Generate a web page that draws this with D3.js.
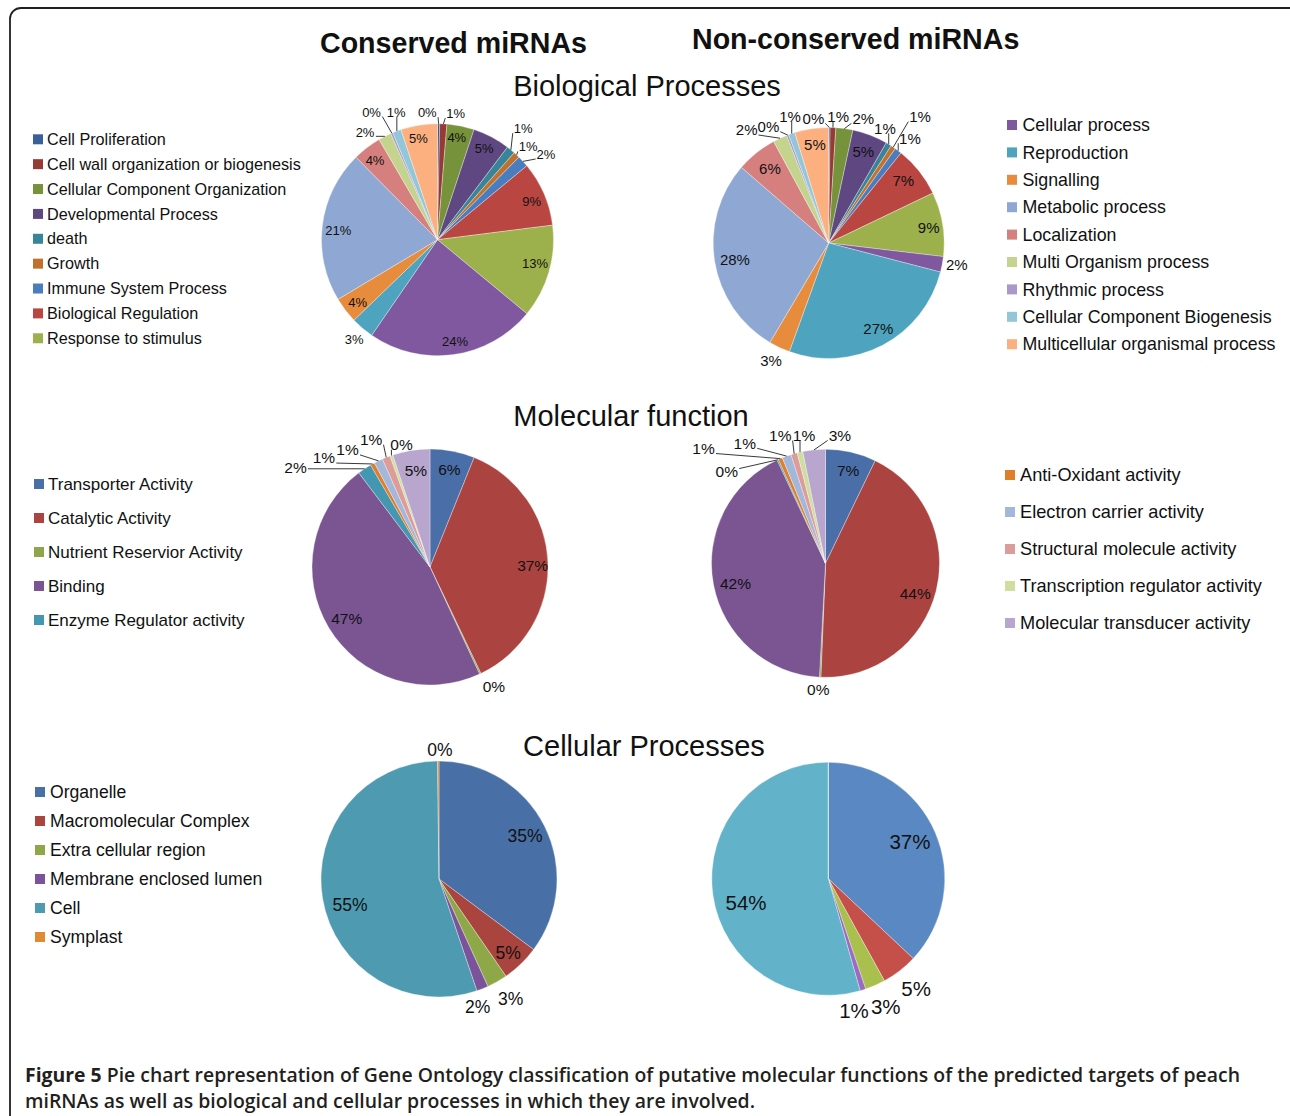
<!DOCTYPE html>
<html><head><meta charset="utf-8">
<script src="https://cdn.jsdelivr.net/npm/d3@7"></script>
<style>body{margin:0;background:#fff;} svg{display:block;}</style>
</head><body>
<svg id="chart" width="1290" height="1116"></svg>
<script>
// ---------------- DATA ----------------
const bpCategories = ["Cell Proliferation","Cell wall organization or biogenesis","Cellular Component Organization","Developmental Process","death","Growth","Immune System Process","Biological Regulation","Response to stimulus","Cellular process","Reproduction","Signalling","Metabolic process","Localization","Multi Organism process","Rhythmic process","Cellular Component Biogenesis","Multicellular organismal process"];
const bpConserved    = [0.3, 1.0, 3.8, 5.2, 1.2, 0.9, 1.6, 9.0, 13.0, 23.6, 3.2, 3.6, 21.2, 4.0, 1.8, 0.3, 1.2, 5.1];
const bpNonConserved = [0.2, 0.8, 2.4, 5.0, 0.8, 0.7, 1.0, 7.2, 9.1, 2.2, 26.8, 3.0, 28.2, 5.8, 2.0, 0.3, 0.9, 4.8];

const mfCategories = ["Transporter Activity","Catalytic Activity","Nutrient Reservior Activity","Binding","Enzyme Regulator activity","Anti-Oxidant activity","Electron carrier activity","Structural molecule activity","Transcription regulator activity","Molecular transducer activity"];
const mfConserved    = [6.1, 36.8, 0.2, 46.6, 1.9, 0.6, 1.2, 1.1, 0.4, 5.1];
const mfNonConserved = [7.2, 43.6, 0.2, 42.3, 0.2, 0.6, 1.3, 0.9, 0.8, 3.2];

const cpCategories = ["Organelle","Macromolecular Complex","Extra cellular region","Membrane enclosed lumen","Cell","Symplast"];
const cpConserved    = [35.2, 5.2, 2.8, 1.6, 55.0, 0.2];
const cpNonConserved = [37.0, 5.0, 2.8, 0.8, 54.4, 0];

const headings = ["Conserved miRNAs", "Non-conserved miRNAs"];
const sectionTitles = ["Biological Processes", "Molecular function", "Cellular Processes"];
const captionBold = "Figure 5";
const captionLine1 = " Pie chart representation of Gene Ontology classification of putative molecular functions of the predicted targets of peach";
const captionLine2 = "miRNAs as well as biological and cellular processes in which they are involved.";

// ---------------- STYLES / LAYOUT ----------------
const bpColors = ["#3B5F98","#963A36","#76923A","#5F4782","#388499","#C2712C","#4A7DBF","#BA4642","#9CB14C","#8058A0","#4EA4BE","#E78C3D","#8EA8D3","#D5807E","#C4D38E","#AA98C9","#92C6D8","#FCB07F"];
const mfColors = ["#4A6FA8","#AB4440","#8EA649","#7A5592","#4497B0","#E07F2A","#A3B7DB","#DC9C9A","#CFDE9F","#B8A6CE"];
const cpColorsC = ["#4870A6","#A9443F","#8FA847","#7B539A","#4D9AB1","#E08A34"];
const cpColorsN = ["#5A88C2","#C5504A","#A9BF4E","#9A6BC0","#62B3CA","#F59A45"];

// label placement: [angle (deg, clockwise from 12 o'clock), radius factor, leader line]
const bpLayoutC = [[355.4,1.10,1],[8.2,1.10,1],[10.7,0.895,0],[27.1,0.885,0],[37.6,1.21,1],[44.3,1.12,1],[51.8,1.19,1],[68.0,0.876,0],[103.6,0.865,0],[170.2,0.886,0],[219.9,1.12,0],[231.9,0.874,0],[275.6,0.86,0],[321.9,0.873,0],[326.1,1.12,1],[332.7,1.24,1],[342,1.155,1],[349.3,0.89,0]];
const bpLayoutN = [[353.0,1.087,1],[4.3,1.097,1],[15.5,1.12,1],[20.8,0.845,0],[26.1,1.106,1],[35.9,1.35,1],[37.8,1.148,1],[50.3,0.84,0],[81.3,0.876,0],[99.75,1.125,0],[149.8,0.854,0],[206.05,1.137,0],[259.7,0.825,0],[321.8,0.823,0],[324,1.209,1],[332.6,1.134,1],[343,1.144,1],[352,0.857,0]];
const mfLayoutC = [[11.3,0.84,0],[89.3,0.87,0],[151.9,1.15,0],[238.2,0.83,0],[306.6,1.42,1],[315.8,1.29,1],[324.9,1.215,1],[335.2,1.19,1],[346.9,1.065,1],[351.7,0.83,0]];
const mfLayoutN = [[13.7,0.84,0],[108.5,0.83,0],[183.3,1.11,0],[257.1,0.81,0],[312.8,1.18,1],[313.3,1.47,1],[326.1,1.27,1],[340.5,1.19,1],[350.5,1.14,1],[6.4,1.13,1]];
const cpLayoutC = [[63.4,0.815,0],[136.8,0.857,0],[149,1.18,0],[163.1,1.13,0],[253.7,0.786,0],[0.4,1.10,0]];
const cpLayoutN = [[65.6,0.77,0],[141.3,1.205,0],[155.8,1.204,0],[169,1.155,0],[253.7,0.736,0],null];

const FONT = "'Liberation Sans', Arial, Helvetica, sans-serif";
const svg = d3.select("#chart").style("font-family", FONT);

// frame
svg.append("rect").attr("x",10).attr("y",8).attr("width",1300).attr("height",1140)
  .attr("rx",11).attr("fill","none").attr("stroke","#231f20").attr("stroke-width",1.8);

// headings
svg.append("text").attr("x",320).attr("y",53).attr("font-size",28.6).attr("font-weight","bold").attr("fill","#111").text(headings[0]);
svg.append("text").attr("x",692).attr("y",49).attr("font-size",28.6).attr("font-weight","bold").attr("fill","#111").text(headings[1]);
const secPos = [[647,96],[631,426],[644,756]];
sectionTitles.forEach((t,i)=>{
  svg.append("text").attr("x",secPos[i][0]).attr("y",secPos[i][1]).attr("text-anchor","middle")
    .attr("font-size",29).attr("fill","#111").text(t);
});

const deg = d3.scaleLinear().domain([0,360]).range([0,2*Math.PI]);

function drawPie(values, colors, cx, cy, r, layout, fs) {
  const g = svg.append("g").attr("transform",`translate(${cx},${cy})`);
  const arcs = d3.pie().sort(null).value(d=>d)(values);
  const arc = d3.arc().innerRadius(0).outerRadius(r);
  g.selectAll("path").data(arcs).join("path")
    .attr("d",arc).attr("fill",(d,i)=>colors[i])
    .attr("stroke","rgba(255,255,255,0.55)").attr("stroke-width",0.6);
  arcs.forEach((d,i)=>{
    const L = layout[i]; if(!L) return;
    const a = deg(L[0]), rr = L[1]*r;
    const x = rr*Math.sin(a), y = -rr*Math.cos(a);
    const t = g.append("text").attr("x",x).attr("y",y).attr("dy","0.36em")
      .attr("text-anchor","middle").attr("font-size",fs).attr("fill","#111")
      .text(Math.round(values[i])+"%");
    if (L[2]) {
      const bb = t.node().getBBox();
      const m = (d.startAngle+d.endAngle)/2;
      const px = r*Math.sin(m), py = -r*Math.cos(m);
      const qx = Math.max(bb.x-1, Math.min(px, bb.x+bb.width+1));
      const qy = Math.max(bb.y+bb.height*0.3, Math.min(py, bb.y+bb.height*0.8));
      g.append("line").attr("x1",px).attr("y1",py).attr("x2",qx).attr("y2",qy)
        .attr("stroke","#222").attr("stroke-width",0.9);
    }
  });
}

function drawLegend(items, colors, sqX, textX, y0, step, fs) {
  const g = svg.append("g");
  items.forEach((name,i)=>{
    const y = y0 + i*step;
    g.append("rect").attr("x",sqX).attr("y",y-5).attr("width",10).attr("height",10).attr("fill",colors[i]);
    g.append("text").attr("x",textX).attr("y",y).attr("dy","0.35em").attr("font-size",fs).attr("fill","#111").text(name);
  });
}

// Biological processes
drawPie(bpConserved, bpColors, 437.5, 239.7, 116, bpLayoutC, 13);
drawPie(bpNonConserved, bpColors, 828.7, 243, 115.5, bpLayoutN, 15);
drawLegend(bpCategories.slice(0,9), bpColors.slice(0,9), 33, 47, 139.3, 24.87, 16.2);
drawLegend(bpCategories.slice(9), bpColors.slice(9), 1007, 1022.5, 125, 27.4, 17.8);

// Molecular function
drawPie(mfConserved, mfColors, 430, 567, 118, mfLayoutC, 15.5);
drawPie(mfNonConserved, mfColors, 825.5, 563.3, 114, mfLayoutN, 15.5);
drawLegend(mfCategories.slice(0,5), mfColors.slice(0,5), 34, 48, 484, 34, 17);
drawLegend(mfCategories.slice(5), mfColors.slice(5), 1005, 1020, 475, 37, 18.2);

// Cellular processes
drawPie(cpConserved, cpColorsC, 439, 879, 118, cpLayoutC, 17.5);
drawPie(cpNonConserved, cpColorsN, 828.3, 878.7, 116.5, cpLayoutN, 20.5);
drawLegend(cpCategories, cpColorsC, 35, 50, 792, 29, 17.6);

// caption
const cap1 = svg.append("text").attr("x",25).attr("y",1082).attr("font-size",19.5)
  .attr("font-family","'Open Sans', sans-serif").attr("fill","#231f20")
  .attr("textLength",1215).attr("lengthAdjust","spacingAndGlyphs");
cap1.append("tspan").attr("font-weight",700).text(captionBold);
cap1.append("tspan").attr("font-weight",600).text(captionLine1);
svg.append("text").attr("x",25).attr("y",1108).attr("font-size",19.5)
  .attr("font-family","'Open Sans', sans-serif").attr("font-weight",600).attr("fill","#231f20")
  .attr("textLength",730).attr("lengthAdjust","spacingAndGlyphs").text(captionLine2);
</script>
</body></html>
